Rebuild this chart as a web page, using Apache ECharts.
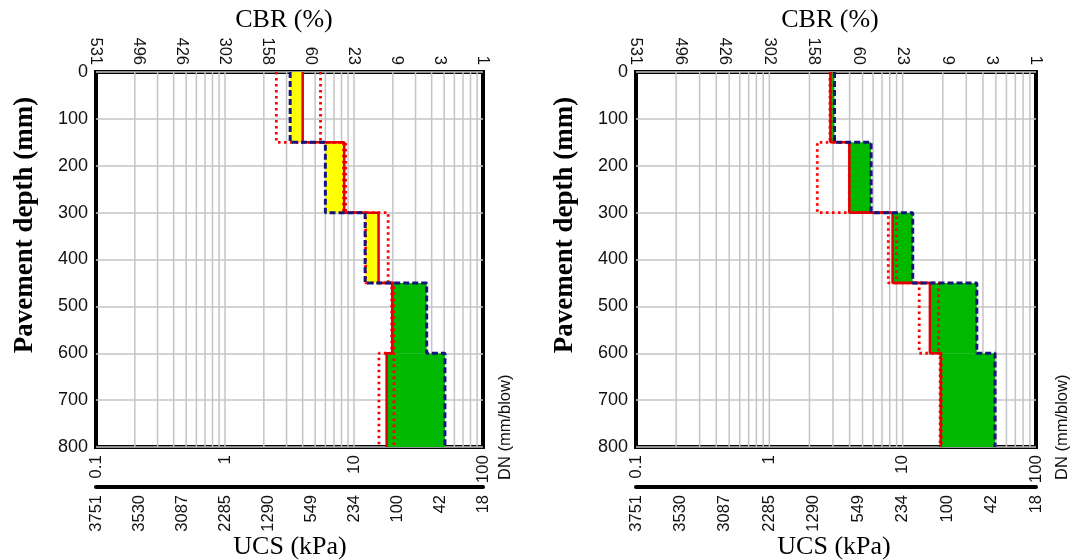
<!DOCTYPE html>
<html><head><meta charset="utf-8">
<script src="https://cdn.jsdelivr.net/npm/echarts@6/dist/echarts.min.js"></script>
<style>html,body{margin:0;padding:0;background:#fff}#c{width:1072px;height:560px}</style>
</head><body><div id="c"></div>
<script>
// ---- data ----
const layerDepths = [0, 150, 300, 450, 600, 800];
const cbrLabels = ['531','496','426','302','158','60','23','9','3','1'];
const ucsLabels = ['3751','3530','3087','2285','1290','549','234','100','42','18'];
const gridDN = [0.2,0.3,0.4,0.5,0.6,0.7,0.8,0.9,1,2,3,4,5,6,7,8,9,10,20,30,40,50,60,70,80,90];

// left panel (DN, mm/blow, per layer)
const leftRed     = [4.0, 8.4, 15.5, 19.8, 17.9];
const leftBlue    = [3.2, 6.0, 12.2, 36.6, 50.7];
const leftDotLow  = [2.5, 8.3, 12.3, 19.6, 15.6];
const leftDotHigh = [5.5, 8.6, 18.4, 20.4, 20.4];
// right panel
const rightRed     = [2.87, 3.98, 8.4, 16.0, 19.3];
const rightBlue    = [3.08, 5.8, 11.9, 36.0, 49.3];
const rightDotLow  = [2.85, 2.29, 7.8, 13.3, 19.1];
const rightDotHigh = [2.9, 3.98, 9.0, 18.6, 19.5];

const panels = [
  {red:leftRed, blue:leftBlue, lo:leftDotLow, hi:leftDotHigh},
  {red:rightRed, blue:rightBlue, lo:rightDotLow, hi:rightDotHigh}
];
const grids = [
  {left:96, top:72, width:387, height:375},
  {left:636, top:72, width:400, height:375}
];

function steps(vals){
  const pts = [];
  vals.forEach((v,i)=>{ pts.push([v, layerDepths[i]]); pts.push([v, layerDepths[i+1]]); });
  return pts;
}

const SANS = '"Liberation Sans", Arial, sans-serif';
const SERIF = '"Liberation Serif", "Times New Roman", serif';
const GRAY = '#c4c4c4';

const option = {
  animation:false,
  backgroundColor:'#fff',
  textStyle:{fontFamily:SANS},
  grid: grids.map(g=>Object.assign({show:true, borderColor:'#000', borderWidth:4, backgroundColor:'transparent'}, g)),
  xAxis: [], yAxis: [], series: [], graphic: []
};

grids.forEach((g, gi)=>{
  const base = option.xAxis.length;
  option.xAxis.push({
    type:'log', logBase:10, min:0.1, max:100, gridIndex:gi, position:'bottom',
    axisLine:{show:false}, axisTick:{show:false}, splitLine:{show:false},
    axisLabel:{rotate:90, fontSize:17, color:'#111', margin:8, fontFamily:SANS, formatter:v=>String(+(+v).toPrecision(3))}
  });
  option.xAxis.push({
    type:'value', min:0, max:9, interval:1, gridIndex:gi, position:'top',
    axisLine:{show:false}, axisTick:{show:false}, splitLine:{show:false},
    axisLabel:{rotate:90, fontSize:16.5, color:'#111', margin:7, fontFamily:SANS, formatter:v=>cbrLabels[v]}
  });
  option.xAxis.push({
    type:'value', min:0, max:9, interval:1, gridIndex:gi, position:'bottom', offset:40,
    axisLine:{show:true, onZero:false, lineStyle:{color:'#000', width:4}}, axisTick:{show:false}, splitLine:{show:false},
    axisLabel:{rotate:90, fontSize:16.5, color:'#111', margin:8, fontFamily:SANS, formatter:v=>ucsLabels[v]}
  });
  option.yAxis.push({
    type:'value', inverse:true, min:0, max:800, interval:100, gridIndex:gi,
    axisLine:{show:false}, axisTick:{show:false},
    splitLine:{show:true, lineStyle:{color:GRAY, width:1.5}},
    axisLabel:{fontSize:18, color:'#111', margin:8, fontFamily:SANS}
  });
  const xi = base, yi = gi;
  const p = panels[gi];
  // minor vertical grid
  option.series.push({
    type:'custom', xAxisIndex:xi, yAxisIndex:yi, silent:true, z:1,
    data: gridDN.map(v=>[v, 0, 800]), encode:{x:0, y:[1,2]},
    renderItem:(params, api)=>{
      const a = api.coord([api.value(0), api.value(1)]);
      const b = api.coord([api.value(0), api.value(2)]);
      return {type:'line', shape:{x1:a[0], y1:a[1], x2:b[0], y2:b[1]}, style:{stroke:GRAY, lineWidth:1.5}};
    }
  });
  // fills between red and blue
  option.series.push({
    type:'custom', xAxisIndex:xi, yAxisIndex:yi, silent:true, z:2,
    data: p.red.map((r,i)=>[Math.min(r,p.blue[i]), Math.max(r,p.blue[i]), layerDepths[i], layerDepths[i+1], p.blue[i] < r ? 1 : 0]),
    encode:{x:[0,1], y:[2,3]},
    renderItem:(params, api)=>{
      const a = api.coord([api.value(0), api.value(2)]);
      const b = api.coord([api.value(1), api.value(3)]);
      return {type:'rect', shape:{x:Math.min(a[0],b[0]), y:Math.min(a[1],b[1]), width:Math.abs(b[0]-a[0]), height:Math.abs(b[1]-a[1])},
        style:{fill: api.value(4) ? '#ffff00' : '#00b800'}};
    }
  });
  [p.lo, p.hi].forEach(arr=>{
    option.series.push({type:'line', xAxisIndex:xi, yAxisIndex:yi, data:steps(arr), symbol:'none', z:3,
      lineStyle:{color:'#ff0000', width:2.8, type:[2.5,3.5]}});
  });
  option.series.push({type:'line', xAxisIndex:xi, yAxisIndex:yi, data:steps(p.red), symbol:'none', z:4,
    lineStyle:{color:'#e00000', width:2.5}});
  option.series.push({type:'line', xAxisIndex:xi, yAxisIndex:yi, data:steps(p.blue), symbol:'none', z:5,
    lineStyle:{color:'#14147a', width:3, type:[6,3]}});
});

const titles = [
  {t:'CBR (%)', x:284, y:20, rot:0, bold:false, fs:26},
  {t:'UCS (kPa)', x:290, y:547, rot:0, bold:false, fs:26},
  {t:'Pavement depth (mm)', x:25, y:225, rot:Math.PI/2, bold:true, fs:27},
  {t:'CBR (%)', x:830, y:20, rot:0, bold:false, fs:26},
  {t:'UCS (kPa)', x:834, y:547, rot:0, bold:false, fs:26},
  {t:'Pavement depth (mm)', x:565, y:225, rot:Math.PI/2, bold:true, fs:27}
];
titles.forEach(o=>option.graphic.push({type:'text', x:o.x, y:o.y, rotation:o.rot,
  style:{text:o.t, fontFamily:SERIF, fontSize:o.fs, fontWeight:o.bold?'bold':'normal', fill:'#000', align:'center', verticalAlign:'middle'}}));
[505, 1062].forEach(x=>option.graphic.push({type:'text', x:x, y:480, rotation:Math.PI/2,
  style:{text:'DN (mm/blow)', fontFamily:SANS, fontSize:16.5, fill:'#111', align:'left', verticalAlign:'middle'}}));

const chart = echarts.init(document.getElementById('c'));
chart.setOption(option);
</script></body></html>
